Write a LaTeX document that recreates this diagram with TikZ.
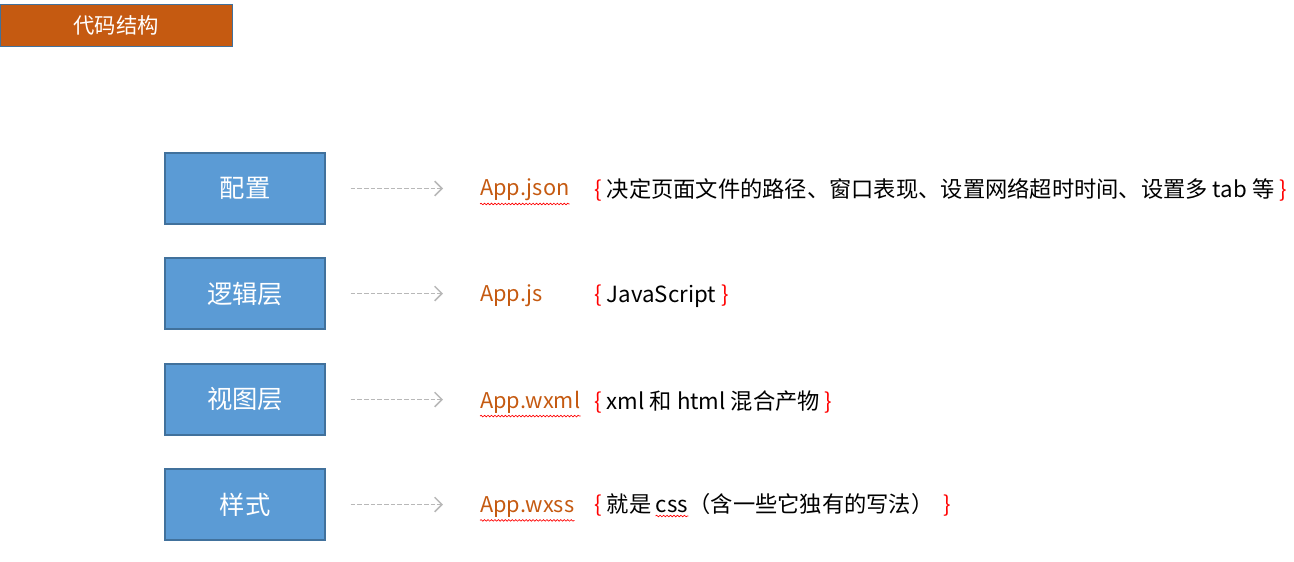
\documentclass[tikz,border=0pt]{standalone}
\usepackage{fontspec}
\setmainfont{Noto Sans CJK SC}
\usetikzlibrary{arrows.meta,decorations.pathmorphing}
\definecolor{hdr}{HTML}{C55A11}
\definecolor{boxfill}{HTML}{5B9BD5}
\definecolor{boxline}{HTML}{41719C}
\definecolor{arrgray}{HTML}{B8B8B8}
\definecolor{lbl}{HTML}{C55A11}
\definecolor{brc}{HTML}{FF0000}
\begin{document}
\begin{tikzpicture}[x=0.75pt,y=-0.75pt,
  layerbox/.style={draw=boxline,line width=0.8pt,fill=boxfill,text=white,minimum width=120pt,minimum height=53.25pt,inner sep=0pt,font=\fontsize{19}{21}\selectfont},
  filelbl/.style={anchor=west,inner sep=0pt,text=lbl,font=\fontsize{16.3}{18}\selectfont},
  desc/.style={anchor=west,inner sep=0pt,font=\fontsize{16.7}{18}\selectfont},
  arr/.style={draw=arrgray,line width=1.1pt,dash pattern=on 3.5pt off 1.5pt,-{Straight Barb[length=5.5pt,width=11pt,line width=1.1pt]},shorten <=18.75pt,shorten >=27.75pt},
  squig/.style={draw=red,line width=0.5pt,decorate,decoration={snake,amplitude=0.6pt,segment length=2.6pt}}]
\useasboundingbox (0,0) rectangle (1294,561);
\node[draw=boxline,line width=0.5pt,fill=hdr,text=white,minimum width=174pt,minimum height=31.5pt,inner sep=0pt,font=\fontsize{16}{18}\selectfont] (hd) at (116,25) {代码结构};
\node[layerbox] (b1) at (245,188.5) {配置};
\node[layerbox] (b2) at (245,293.5) {逻辑层};
\node[layerbox] (b3) at (245,399.5) {视图层};
\node[layerbox] (b4) at (245,504.5) {样式};
\node[filelbl] (l1) at (480,190) {App.json};
\node[filelbl] (l2) at (480,296) {App.js};
\node[filelbl] (l3) at (480,402) {App.wxml};
\node[filelbl] (l4) at (480,507) {App.wxss};
\node[desc] (d1) at (594,190) {\textcolor{brc}{\{} 决定页面文件的路径、窗口表现、设置网络超时时间、设置多 tab 等 \textcolor{brc}{\}}};
\node[desc] (d2) at (594,296) {\textcolor{brc}{\{} JavaScript \textcolor{brc}{\}}};
\node[desc] (d3) at (594,402) {\textcolor{brc}{\{} xml 和 html 混合产物 \textcolor{brc}{\}}};
\node[desc] (d4a) at (594,507) {\textcolor{brc}{\{} 就是\strut};
\node[desc,anchor=base west] (d4b) at ([xshift=0.3em]d4a.base east) {css};
\node[desc,anchor=base west] (d4c) at (d4b.base east) {（含一些它独有的写法）\hspace{0.45em}\textcolor{brc}{\}}};
\foreach \i in {1,2,3,4}{
  \draw[arr] (b\i.east) -- (b\i.east -| l\i.west);
}
\draw[squig] ([yshift=-2pt]l1.south west) -- ([yshift=-2pt]l1.south east);
\draw[squig] ([yshift=-2pt]l3.south west) -- ([yshift=-2pt]l3.south east);
\draw[squig] ([yshift=-2pt]l4.south west) -- ([yshift=-2pt]l4.south east);
\draw[squig] ([yshift=-2pt]d4b.south west) -- ([yshift=-2pt]d4b.south east);
\end{tikzpicture}
\end{document}
